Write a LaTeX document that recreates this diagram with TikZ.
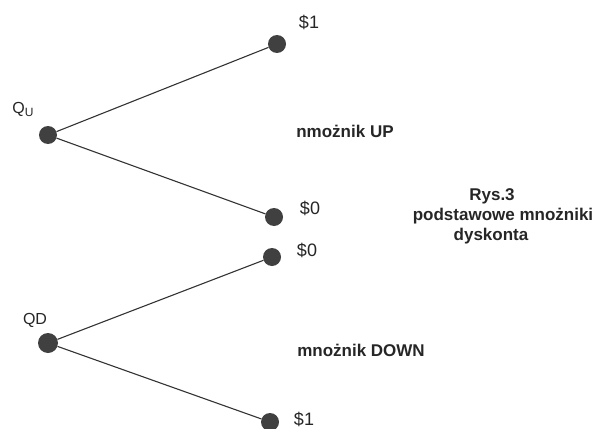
\documentclass[tikz,border=0pt]{standalone}
\usepackage{fontspec}
\setmainfont{Liberation Sans}
\begin{document}
\begin{tikzpicture}[x=1pt,y=-1pt,
  dot/.style={circle,fill=black!75,inner sep=0pt,minimum size=18pt},
  edge/.style={draw=black!80,line width=1.1pt},
  val/.style={font=\fontsize{18}{18}\selectfont,text=black!85},
  qlbl/.style={font=\fontsize{16}{16}\selectfont,text=black!85},
  lbl/.style={font=\fontsize{17}{20}\selectfont\bfseries,text=black!85,align=center}]
\useasboundingbox (0,0) rectangle (599,428);
\node[dot] (qu) at (48,135) {};
\node[dot] (u1) at (277,44) {};
\node[dot] (u0) at (274,217) {};
\node[dot,minimum width=14pt,minimum height=20pt] (qd) at (48,343) {};
\node[dot] (d0) at (272,257) {};
\node[dot] (d1) at (270,422) {};
\draw[edge] (qu) -- (u1);
\draw[edge] (qu) -- (u0);
\draw[edge] (qd) -- (d0);
\draw[edge] (qd) -- (d1);
\node[qlbl] (tu) at (23,109) {Q\raisebox{-3pt}{\fontsize{12}{12}\selectfont U}};
\node[qlbl] (td) at (35,320) {QD};
\node[val] (l1) at (309,22) {\$1};
\node[val] (l2) at (310,208) {\$0};
\node[val] (l3) at (307,250) {\$0};
\node[val] (l4) at (304,419) {\$1};
\node[lbl] (up) at (345,131) {nmożnik UP};
\node[lbl] (down) at (361,350) {mnożnik DOWN};
\node[lbl] (rys) at (503,216) {\hspace*{-22pt}Rys.3\\podstawowe mnożniki\\\hspace*{-24pt}dyskonta};
\end{tikzpicture}
\end{document}
